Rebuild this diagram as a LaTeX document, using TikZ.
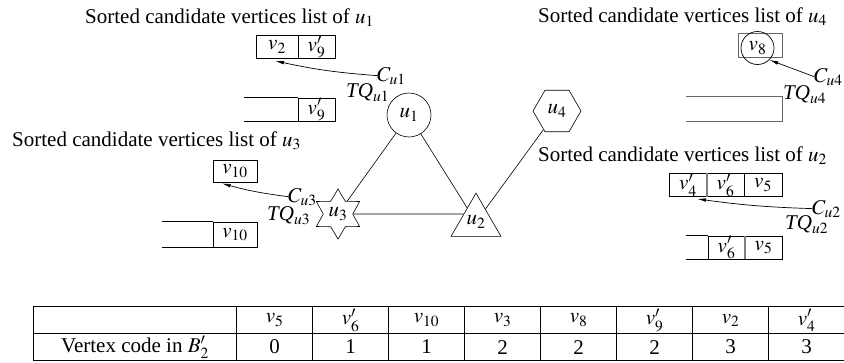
\documentclass[tikz,border=0pt]{standalone}
\usepackage{mathptmx}
\usepackage{fontspec}
\setmainfont{Liberation Serif}
\usetikzlibrary{shapes.geometric,arrows.meta,calc,matrix}
\begin{document}
\begin{tikzpicture}[x=1pt,y=-1pt,
  every node/.style={font=\fontsize{21}{24}\selectfont, inner sep=0pt},
  cell/.style={draw, line width=0.7pt, minimum height=23pt, inner sep=0pt},
  lbl/.style={anchor=base west, inner sep=0pt},
  arr/.style={-{Latex[length=9pt,width=3.5pt]}, line width=0.7pt},
  thickdiv/.style={line width=2pt, black!50},
  gr/.style={draw, line width=0.6pt},
  grayline/.style={draw=black!60, line width=0.8pt},
]
\useasboundingbox (0,0) rectangle (844,362);

% titles
\node[anchor=base west] (t1) at (85,23) {Sorted candidate vertices list of $u_1$};
\node[anchor=base west] (t4) at (538,22) {Sorted candidate vertices list of $u_4$};
\node[anchor=base west] (t3) at (12,146) {Sorted candidate vertices list of $u_3$};
\node[anchor=base west] (t2) at (538,161) {Sorted candidate vertices list of $u_2$};

% u1 list and queue
\node[cell, minimum width=42pt] (a1) at (277,47) {$v_2$};
\node[cell, minimum width=37pt] (a2) at (316.5,47) {$v_9'$};
\node[cell, minimum width=37pt] (b1) at (316.5,109.5) {$v_9'$};
\draw[line width=0.7pt] (b1.north west) -- ++(-54,0) (b1.south west) -- ++(-54,0);

% u3 list and queue
\node[cell, minimum width=44pt, minimum height=22pt] (c1) at (235,171) {$v_{10}$};
\node[cell, minimum width=44pt, minimum height=25pt] (d1) at (235,234.5) {$v_{10}$};
\draw[line width=0.7pt] (d1.north west) -- ++(-51,0) (d1.south west) -- ++(-51,0);

% u4 list and queue
\node[grayline, minimum width=44pt, minimum height=24pt] (e1) at (760,45) {};
\node[circle, draw, line width=0.7pt, minimum size=33pt] (e2) at (757.5,48) {$v_8$};
\node[minimum width=96pt, minimum height=24pt] (f1) at (734,109) {};
\draw[grayline] (f1.north west) -- (f1.north east) -- (f1.south east) -- (f1.south west);

% u2 list and queue
\node[cell, minimum width=38pt] (g1) at (688,185) {$v_4'$};
\node[cell, minimum width=37pt] (g2) at (725.5,185) {$v_6'$};
\node[cell, minimum width=38pt] (g3) at (763,185) {$v_5$};
\draw[thickdiv] (g1.north east) -- (g1.south east);
\node[cell, minimum width=37pt] (h1) at (726.5,247.5) {$v_6'$};
\node[cell, minimum width=37pt] (h2) at (763.5,247.5) {$v_5$};
\draw[thickdiv] (h1.north east) -- (h1.south east);
\draw[line width=0.7pt] (h1.north west) -- ++(-22,0) (h1.south west) -- ++(-22,0);

% pointer labels
\node[lbl] (cu1) at (377,81) {$C_{u1}$};
\node[lbl] (tq1) at (346,97) {$\textit{TQ}_{u1}$};
\node[lbl] (cu3) at (288,202) {$C_{u3}$};
\node[lbl] (tq3) at (267,220) {$\textit{TQ}_{u3}$};
\node[lbl] (cu4) at (814,82) {$C_{u4}$};
\node[lbl] (tq4) at (783,99) {$\textit{TQ}_{u4}$};
\node[lbl] (cu2) at (812,214) {$C_{u2}$};
\node[lbl] (tq2) at (785,229) {$\textit{TQ}_{u2}$};

% pointer arrows
\draw[arr] (cu1.west) to[bend left=4] ($(a1.south)+(-2,2)$);
\draw[arr] (cu3.west) to[bend left=4] ($(c1.south west)+(9,1)$);
\draw[arr] (cu4.west) -- (e2.south east);
\draw[arr] (cu2.west) to[bend left=3] ($(g1.south)+(9,2)$);

% query graph
\node[circle, gr, minimum size=44pt] (u1) at (409,115) {$u_1$};
\node[regular polygon, regular polygon sides=6, gr, minimum size=48pt] (u4) at (557,111) {$u_4$};
\node[star, star points=6, star point ratio=1.7, gr, minimum size=50pt] (u3) at (338,214) {$u_3$};
\node[regular polygon, regular polygon sides=3, gr, minimum size=57.7pt] (u2) at (476,222) {$u_2$};
\coordinate (u2l) at ($(u2.corner 1)!0.485!(u2.corner 2)$);
\draw[gr] (u1) -- (u3);
\draw[gr] (u1) -- (u2);
\draw[gr] (u4) -- (u2);
\draw[gr] (u3) -- (u2l);

% table
\matrix[matrix of nodes, nodes in empty cells, anchor=north west, column sep=-0.7pt, row sep=-0.7pt,
  nodes={draw, line width=0.7pt, minimum height=27pt, minimum width=76pt, anchor=center},
  column 1/.style={nodes={minimum width=203pt}}] (tb) at (33,306) {
  & $v_5$ & $v_6'$ & $v_{10}$ & $v_3$ & $v_8$ & $v_9'$ & $v_2$ & $v_4'$ \\
  Vertex code in $B_2'$ & 0 & 1 & 1 & 2 & 2 & 2 & 3 & 3 \\
};
\end{tikzpicture}
\end{document}
